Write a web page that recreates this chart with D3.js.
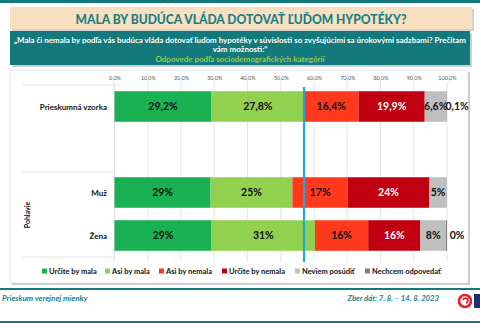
<!DOCTYPE html>
<html>
<head>
<meta charset="utf-8">
<script src="https://cdn.jsdelivr.net/npm/d3@7"></script>
<style>
  html, body { margin: 0; padding: 0; background: #ffffff; }
  svg { display: block; font-family: Lato, "Open Sans", sans-serif; }
</style>
</head>
<body>
<svg id="chart" width="480" height="323"></svg>
<script>
// Survey rows (the "_gap" slot leaves an empty row between the sample and the gender group)
const rowSlots = ["Prieskumná vzorka", "_gap", "Muž", "Žena"];
const rows = ["Prieskumná vzorka", "Muž", "Žena"];
const rowDecimals = [1, 0, 0];
const showLastLabel = [true, false, true];

// Answer shares in percent, one array per answer
const urciteMala   = [29.2, 28.9, 29.2];
const asiMala      = [27.8, 24.6, 31.1];
const asiNemala    = [16.4, 16.7, 16.0];
const urciteNemala = [19.9, 24.4, 15.7];
const neviem       = [6.6, 5.4, 7.7];
const nechcem      = [0.1, 0.0, 0.3];

const answerNames = ["Určite by mala", "Asi by mala", "Asi by nemala", "Určite by nemala", "Neviem posúdiť", "Nechcem odpovedať"];
const answerColors = ["#19b153", "#92d050", "#ff3a1c", "#c00010", "#bfbfbf", "#808080"];
const tickValues = [0, 10, 20, 30, 40, 50, 60, 70, 80, 90, 100];

const teal = "#13797c";
const svg = d3.select("#chart");

// Header and footer rules
svg.append("rect").attr("x", 0).attr("y", 0).attr("width", 480).attr("height", 3).attr("fill", teal);
svg.append("rect").attr("x", 0).attr("y", 288).attr("width", 480).attr("height", 2).attr("fill", teal);
svg.append("rect").attr("x", 0).attr("y", 321).attr("width", 480).attr("height", 2).attr("fill", teal);

// Title box
svg.append("rect").attr("x", 12).attr("y", 9).attr("width", 462).attr("height", 22).attr("fill", "#d4d4d4");
svg.append("rect").attr("x", 10).attr("y", 7).attr("width", 462).attr("height", 22).attr("fill", "#f8dfc0");
svg.append("text").attr("x", 241).attr("y", 23.5).attr("text-anchor", "middle")
  .attr("font-size", 13.5).attr("font-weight", 900).attr("fill", "#1a7f86")
  .attr("textLength", 331).attr("lengthAdjust", "spacingAndGlyphs")
  .text("MALA BY BUDÚCA VLÁDA DOTOVAŤ ĽUĎOM HYPOTÉKY?");

// Question box
svg.append("rect").attr("x", 12).attr("y", 33).attr("width", 460).attr("height", 34).attr("fill", "#cfcfcf");
svg.append("rect").attr("x", 10).attr("y", 31).attr("width", 460).attr("height", 34).attr("fill", teal);
svg.append("text").attr("x", 240).attr("y", 43).attr("text-anchor", "middle")
  .attr("font-size", 8).attr("font-weight", 700).attr("fill", "#ffffff")
  .attr("textLength", 452).attr("lengthAdjust", "spacingAndGlyphs")
  .text("„Mala či nemala by podľa vás budúca vláda dotovať ľuďom hypotéky v súvislosti so zvyšujúcimi sa úrokovými sadzbami? Prečítam");
svg.append("text").attr("x", 240).attr("y", 52).attr("text-anchor", "middle")
  .attr("font-size", 8).attr("font-weight", 700).attr("fill", "#ffffff")
  .text("vám možnosti:“");
svg.append("text").attr("x", 240).attr("y", 62).attr("text-anchor", "middle")
  .attr("font-size", 8).attr("font-weight", 700).attr("fill", "#92d050")
  .text("Odpovede podľa sociodemografických kategórií");

// Chart panel
svg.append("rect").attr("x", 12).attr("y", 72).attr("width", 458).attr("height", 213).attr("fill", "#c8c8c8");
svg.append("rect").attr("x", 10).attr("y", 70).attr("width", 458).attr("height", 213)
  .attr("fill", "#ffffff").attr("stroke", "#e2e2e2").attr("stroke-width", 0.8);

// Scales
const x = d3.scaleLinear().domain([0, 100]).range([114.5, 447]);
const y = d3.scaleBand().domain(rowSlots).range([85, 257]).paddingInner(0.29).paddingOuter(0.145);

// Gridlines
svg.append("g").selectAll("line").data(tickValues).join("line")
  .attr("x1", d => x(d)).attr("x2", d => x(d))
  .attr("y1", 82).attr("y2", 262)
  .attr("stroke", "#e6e6e6").attr("stroke-width", 1);

// Top percentage axis
const fmtTick = d => d3.format(".1f")(d).replace(".", ",") + "%";
const axis = svg.append("g").attr("transform", "translate(0,80)")
  .call(d3.axisTop(x).tickValues(tickValues).tickFormat(fmtTick).tickSize(0).tickPadding(0));
axis.select(".domain").remove();
axis.selectAll("text").attr("font-size", 5.5).attr("fill", "#595959").attr("font-family", "Lato, sans-serif");

// Category label frame
const frame = svg.append("g").attr("stroke", "#e0e0e0").attr("stroke-width", 1);
[85, 172, 257].forEach(v => frame.append("line").attr("x1", 22).attr("x2", 114.5).attr("y1", v).attr("y2", v));
frame.append("line").attr("x1", 114.5).attr("x2", 114.5).attr("y1", 85).attr("y2", 257);

svg.append("g").selectAll("text").data(rows).join("text")
  .attr("x", 107).attr("y", d => y(d) + y.bandwidth() / 2 + 3)
  .attr("text-anchor", "end").attr("font-size", 8).attr("font-weight", 700).attr("fill", "#111111")
  .text(d => d);

svg.append("text").attr("transform", "translate(30,215) rotate(-90)")
  .attr("text-anchor", "middle").attr("font-size", 7).attr("font-weight", 700).attr("fill", "#111111")
  .text("Pohlavie");

// Stacked bars
const seriesArrays = [urciteMala, asiMala, asiNemala, urciteNemala, neviem, nechcem];
const table = rows.map((r, i) => {
  const o = { row: r, idx: i };
  answerNames.forEach((n, k) => { o[n] = seriesArrays[k][i]; });
  return o;
});
const stacked = d3.stack().keys(answerNames)(table);

const layers = svg.append("g").selectAll("g").data(stacked).join("g")
  .attr("fill", (d, k) => answerColors[k]);
layers.selectAll("rect").data(d => d).join("rect")
  .attr("x", d => x(d[0]))
  .attr("y", d => y(d.data.row))
  .attr("width", d => Math.max(0, x(d[1]) - x(d[0])))
  .attr("height", y.bandwidth());

// Value labels
const fmtVal = (v, dec) => d3.format("." + dec + "f")(v).replace(".", ",") + "%";
stacked.forEach((layer, k) => {
  layer.forEach(d => {
    const i = d.data.idx;
    const v = d[1] - d[0];
    const last = k === answerNames.length - 1;
    if (last && !showLastLabel[i]) return;
    const cx = last ? x(100) + 10 : (x(d[0]) + x(d[1])) / 2;
    svg.append("text")
      .attr("x", cx).attr("y", y(d.data.row) + y.bandwidth() / 2 + 3.8)
      .attr("text-anchor", "middle").attr("font-size", 10.5).attr("font-weight", 700)
      .attr("fill", k === 3 ? "#ffffff" : "#111111")
      .text(fmtVal(v, rowDecimals[i]));
  });
});

// Marker for the overall "should" share of the sample
const mark = urciteMala[0] + asiMala[0];
svg.append("line").attr("x1", x(mark)).attr("x2", x(mark)).attr("y1", 87).attr("y2", 262)
  .attr("stroke", "#1fa8e0").attr("stroke-width", 2.2);

// Legend
const legendX = [42, 105, 159, 222, 295, 365];
const legend = svg.append("g").selectAll("g").data(answerNames).join("g")
  .attr("transform", (d, k) => `translate(${legendX[k]},272)`);
legend.append("rect").attr("x", 0).attr("y", -3.5).attr("width", 5).attr("height", 5)
  .attr("fill", (d, k) => answerColors[k]);
legend.append("text").attr("x", 7).attr("y", 1.8)
  .attr("font-size", 7.5).attr("font-weight", 700).attr("fill", "#111111")
  .text(d => d);

// Footer texts
svg.append("text").attr("x", 2).attr("y", 301).attr("font-size", 8).attr("font-weight", 700)
  .attr("font-style", "italic").attr("fill", "#1a7f86").text("Prieskum verejnej mienky");
svg.append("text").attr("x", 439).attr("y", 301).attr("text-anchor", "end").attr("font-size", 7.7).attr("font-weight", 700)
  .attr("font-style", "italic").attr("fill", "#1a7f86").text("Zber dát: 7. 8. – 14. 8. 2023");

// Logo
const logo = svg.append("g").attr("transform", "translate(465,301)");
logo.append("circle").attr("r", 6).attr("fill", "none").attr("stroke", "#e8202a").attr("stroke-width", 2.6);
logo.append("path").attr("d", "M-2,-1 A2.5,2.5 0 1 1 1,2").attr("fill", "none").attr("stroke", "#e8202a").attr("stroke-width", 1.8);
logo.append("rect").attr("x", 9).attr("y", -7).attr("width", 6).attr("height", 14).attr("fill", "#1c2f6e");
</script>
</body>
</html>
